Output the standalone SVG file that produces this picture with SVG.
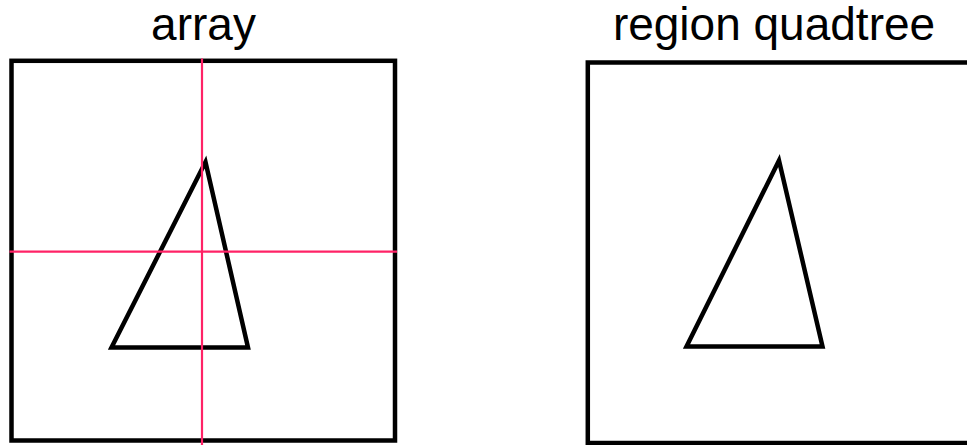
<svg xmlns="http://www.w3.org/2000/svg" width="967" height="445" viewBox="0 0 967 445">
<style>
.title{font-family:"Liberation Sans",Arial,sans-serif;font-size:46px;fill:#000;text-anchor:middle}
.box{fill:none;stroke:#000;stroke-width:4.5}
.tri{fill:none;stroke:#000;stroke-width:4.5;stroke-linejoin:miter}
.grid{stroke:#ff2266;stroke-width:2.2}
</style>
<rect width="967" height="445" fill="#fff"/>
<g id="array">
<text class="title" x="203.5" y="40">array</text>
<rect class="box" x="11.5" y="60.8" width="383.5" height="379.7"/>
<polygon class="tri" points="205.5,162 111.5,347.5 248,347.5"/>
<line class="grid" x1="202" y1="58.5" x2="202" y2="445"/>
<line class="grid" x1="9.5" y1="251.7" x2="397" y2="251.7"/>
</g>
<g id="quadtree">
<text class="title" x="774" y="40">region quadtree</text>
<rect class="box" x="587.8" y="62.5" width="383.5" height="380.5"/>
<polygon class="tri" points="779,160.5 686.5,346.5 822.5,346.5"/>
</g>
</svg>
